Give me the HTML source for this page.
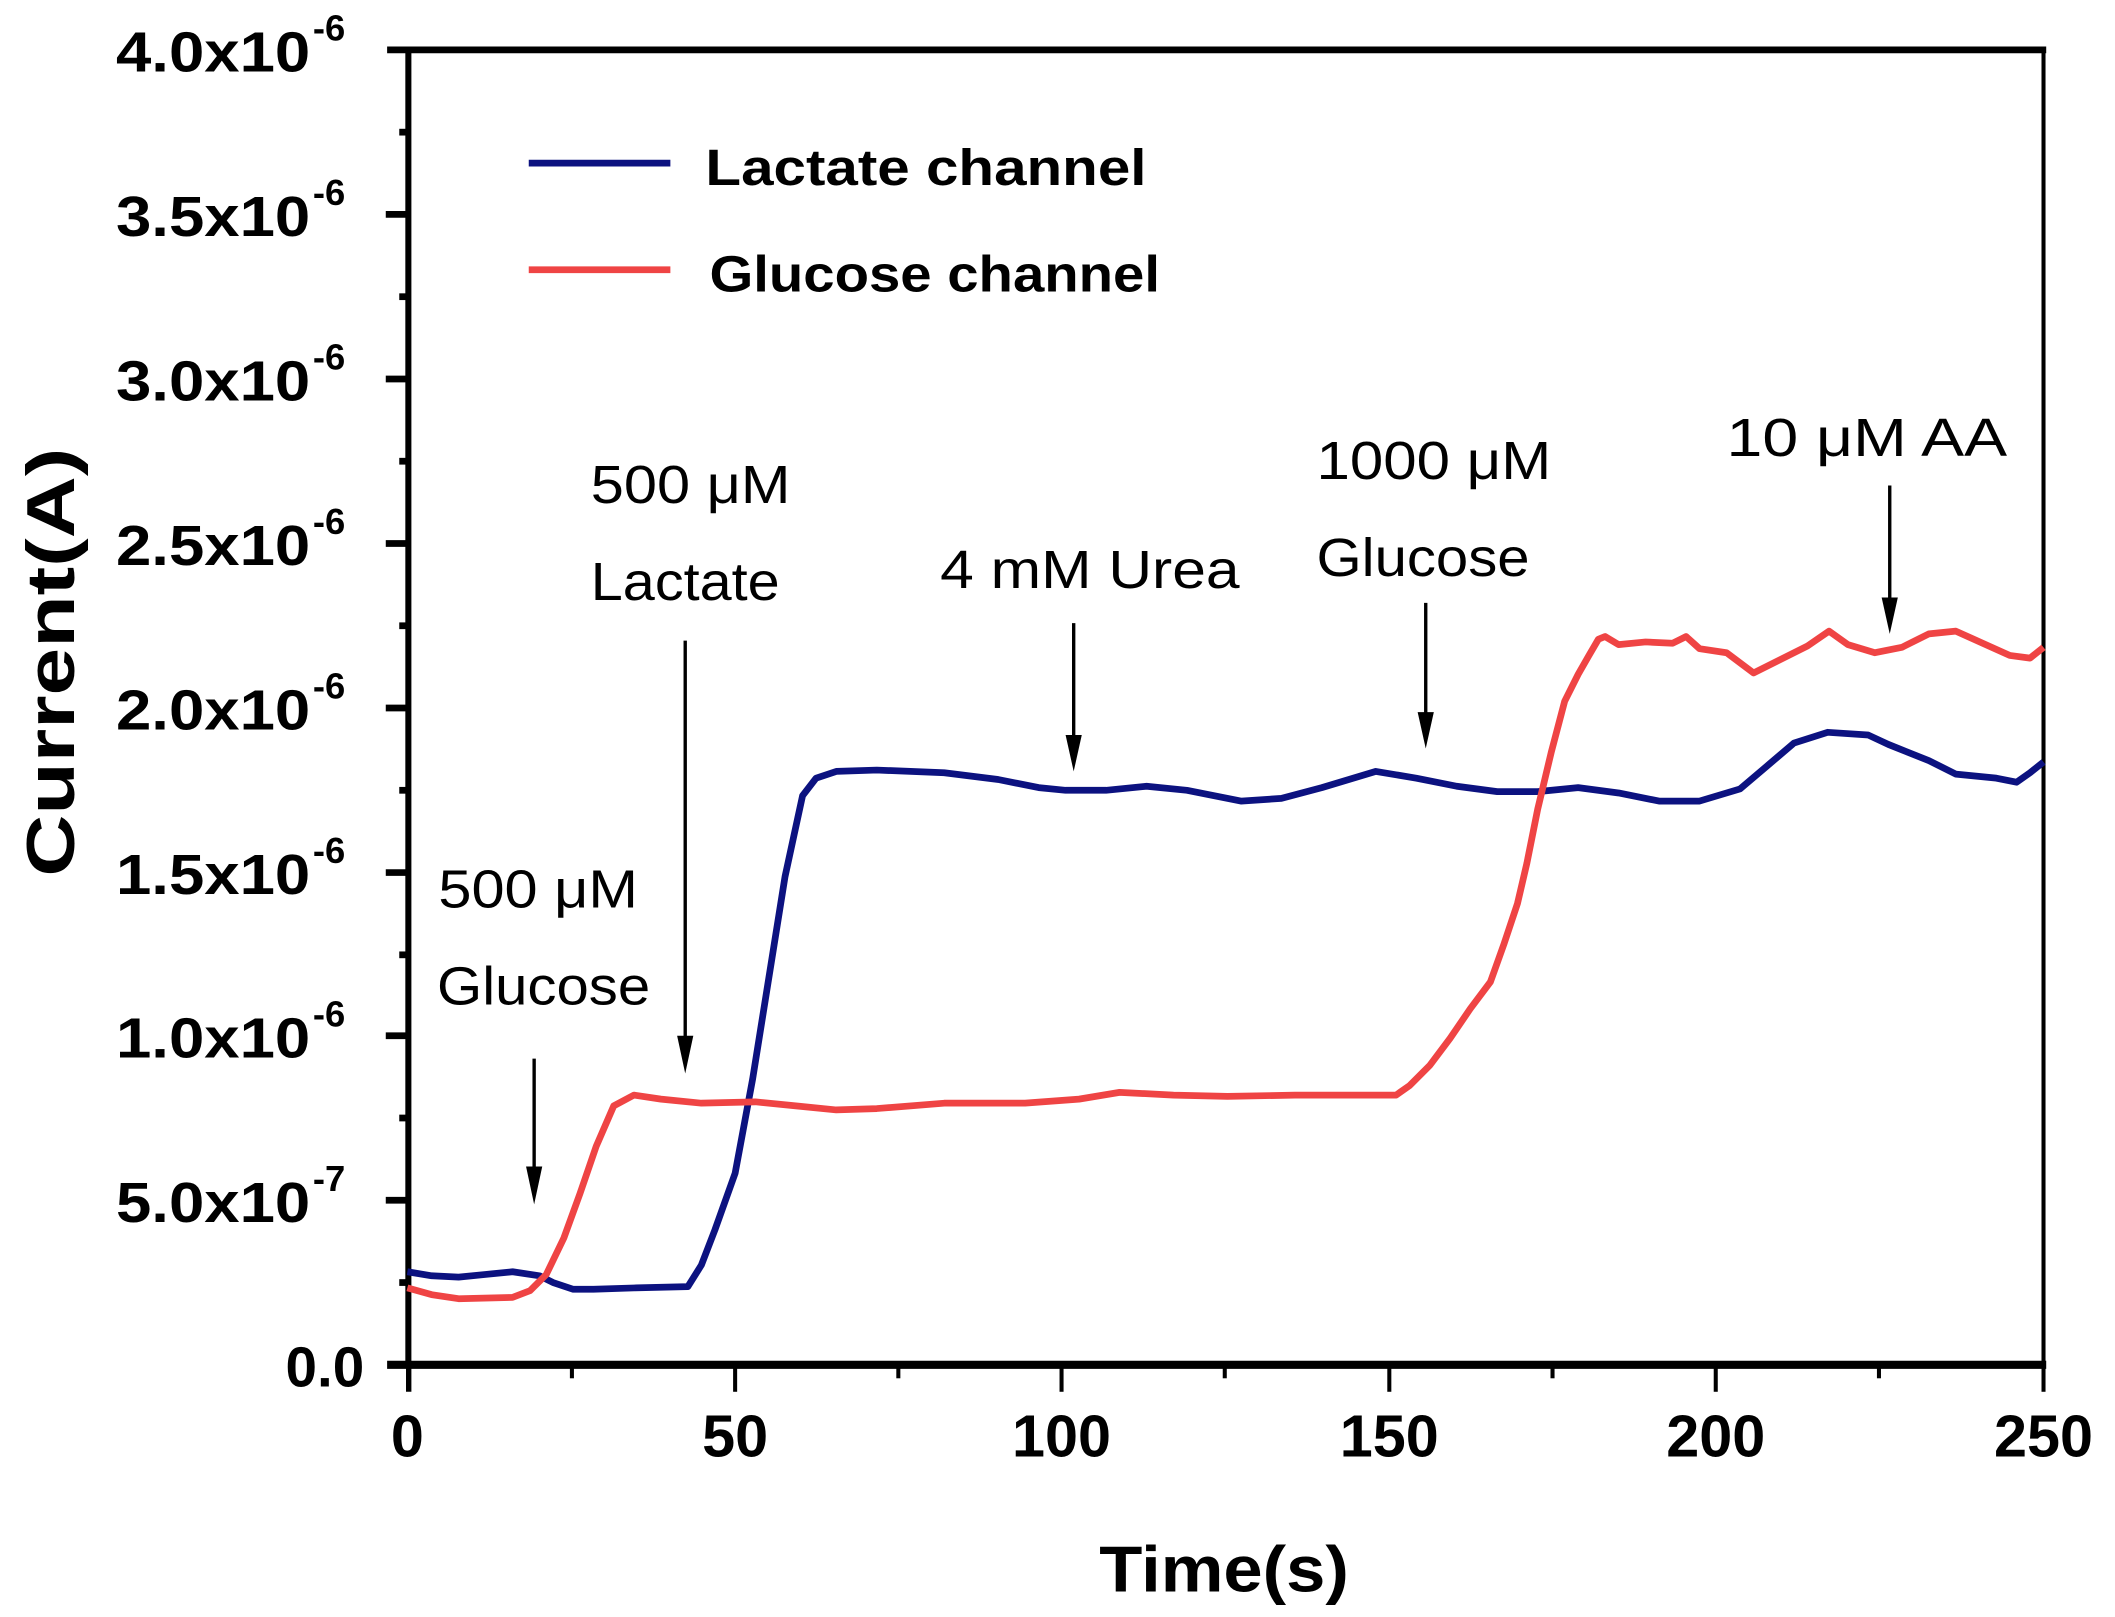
<!DOCTYPE html>
<html><head><meta charset="utf-8"><style>
html,body{margin:0;padding:0;background:#fff;}
svg{display:block;}
text{font-family:"Liberation Sans",sans-serif;fill:#000;}
.b{font-weight:bold;}
</style></head><body>
<svg width="2115" height="1617" viewBox="0 0 1568 1199" preserveAspectRatio="none" xmlns="http://www.w3.org/2000/svg">
<rect width="1568" height="1199" fill="#fff"/>
<rect x="302" y="37" width="1213" height="975" fill="none" stroke="#000" stroke-width="3"/>
<line x1="287" y1="37" x2="1517" y2="37" stroke="#000" stroke-width="5"/>
<line x1="287" y1="1012" x2="1517" y2="1012" stroke="#000" stroke-width="6"/>
<line x1="303" y1="37" x2="303" y2="1032" stroke="#000" stroke-width="4"/>
<g stroke="#000" stroke-width="5">
<line x1="286" y1="159" x2="302" y2="159"/><line x1="286" y1="281" x2="302" y2="281"/>
<line x1="286" y1="403" x2="302" y2="403"/><line x1="286" y1="525" x2="302" y2="525"/>
<line x1="286" y1="647" x2="302" y2="647"/><line x1="286" y1="768" x2="302" y2="768"/>
<line x1="286" y1="890" x2="302" y2="890"/>
<line x1="296" y1="98" x2="302" y2="98"/><line x1="296" y1="220" x2="302" y2="220"/>
<line x1="296" y1="342" x2="302" y2="342"/><line x1="296" y1="464" x2="302" y2="464"/>
<line x1="296" y1="586" x2="302" y2="586"/><line x1="296" y1="708" x2="302" y2="708"/>
<line x1="296" y1="829" x2="302" y2="829"/><line x1="296" y1="951" x2="302" y2="951"/>
</g>
<g stroke="#000" stroke-width="3">
<line x1="545" y1="1012" x2="545" y2="1032"/><line x1="787" y1="1012" x2="787" y2="1032"/>
<line x1="1030" y1="1012" x2="1030" y2="1032"/><line x1="1272" y1="1012" x2="1272" y2="1032"/>
<line x1="1515" y1="1012" x2="1515" y2="1032"/>
<line x1="424" y1="1012" x2="424" y2="1022"/><line x1="666" y1="1012" x2="666" y2="1022"/>
<line x1="908" y1="1012" x2="908" y2="1022"/><line x1="1151" y1="1012" x2="1151" y2="1022"/>
<line x1="1393" y1="1012" x2="1393" y2="1022"/>
</g>
<g class="b" font-size="42">
<text x="86" y="53" textLength="144" lengthAdjust="spacingAndGlyphs">4.0x10</text><text x="232" y="30" font-size="27">-6</text>
<text x="86" y="175" textLength="144" lengthAdjust="spacingAndGlyphs">3.5x10</text><text x="232" y="152" font-size="27">-6</text>
<text x="86" y="297" textLength="144" lengthAdjust="spacingAndGlyphs">3.0x10</text><text x="232" y="274" font-size="27">-6</text>
<text x="86" y="419" textLength="144" lengthAdjust="spacingAndGlyphs">2.5x10</text><text x="232" y="396" font-size="27">-6</text>
<text x="86" y="541" textLength="144" lengthAdjust="spacingAndGlyphs">2.0x10</text><text x="232" y="518" font-size="27">-6</text>
<text x="86" y="663" textLength="144" lengthAdjust="spacingAndGlyphs">1.5x10</text><text x="232" y="640" font-size="27">-6</text>
<text x="86" y="784" textLength="144" lengthAdjust="spacingAndGlyphs">1.0x10</text><text x="232" y="761" font-size="27">-6</text>
<text x="86" y="906" textLength="144" lengthAdjust="spacingAndGlyphs">5.0x10</text><text x="232" y="883" font-size="27">-7</text>
<text x="270" y="1028" text-anchor="end">0.0</text>
</g>
<g class="b" font-size="44" text-anchor="middle">
<text x="302" y="1080">0</text><text x="545" y="1080">50</text><text x="787" y="1080">100</text>
<text x="1030" y="1080">150</text><text x="1272" y="1080">200</text><text x="1515" y="1080">250</text>
</g>
<text class="b" x="815" y="1180" font-size="48" textLength="185" lengthAdjust="spacingAndGlyphs">Time(s)</text>
<text class="b" x="0" y="0" font-size="50" transform="translate(55,650) rotate(-90)" textLength="318" lengthAdjust="spacingAndGlyphs">Current(A)</text>
<line x1="392" y1="121" x2="497" y2="121" stroke="#0c1280" stroke-width="5"/>
<text class="b" x="523" y="137" font-size="38" textLength="327" lengthAdjust="spacingAndGlyphs">Lactate channel</text>
<line x1="392" y1="200" x2="497" y2="200" stroke="#ef4444" stroke-width="5"/>
<text class="b" x="526" y="216" font-size="38" textLength="334" lengthAdjust="spacingAndGlyphs">Glucose channel</text>
<polyline fill="none" stroke="#0c1280" stroke-width="5" stroke-linejoin="round" points="302,943 320,946 340,947 360,945 380,943 400,946 410,951 425,956 440,956 470,955 510,954 520,938 530,912 545,870 558,800 570,725 582,650 595,590 605,577 620,572 650,571 700,573 740,578 770,584 790,586 820,586 850,583 880,586 920,594 950,592 980,584 1020,572 1050,577 1080,583 1110,587 1140,587 1170,584 1200,588 1230,594 1260,594 1290,585 1310,568 1330,551 1355,543 1385,545 1400,552 1430,564 1450,574 1480,577 1495,580 1505,573 1515,565"/>
<polyline fill="none" stroke="#ef4444" stroke-width="5" stroke-linejoin="round" points="302,955 320,960 340,963 380,962 393,957 405,945 418,918 430,885 442,850 455,820 470,812 490,815 520,818 560,817 590,820 620,823 650,822 700,818 760,818 800,815 830,810 870,812 910,813 960,812 1035,812 1045,805 1060,790 1075,770 1090,748 1105,728 1115,700 1125,670 1132,640 1140,600 1150,558 1160,520 1170,500 1178,486 1185,474 1190,472 1200,478 1220,476 1240,477 1250,472 1260,481 1280,484 1300,499 1320,489 1340,479 1356,468 1370,478 1390,484 1410,480 1430,470 1450,468 1470,477 1490,486 1505,488 1515,480"/>
<g stroke="#000" stroke-width="2.5">
<line x1="396" y1="785" x2="396" y2="875"/><line x1="508" y1="475" x2="508" y2="780"/>
<line x1="796" y1="462" x2="796" y2="555"/><line x1="1057" y1="447" x2="1057" y2="538"/>
<line x1="1401" y1="360" x2="1401" y2="453"/>
</g>
<g fill="#000">
<polygon points="390,865 402,865 396,893"/><polygon points="502,768 514,768 508,796"/>
<polygon points="790,545 802,545 796,572"/><polygon points="1051,528 1063,528 1057,555"/>
<polygon points="1395,443 1407,443 1401,470"/>
</g>
<g font-size="40">
<text x="325" y="673" textLength="148" lengthAdjust="spacingAndGlyphs">500 μM</text>
<text x="324" y="745" textLength="158" lengthAdjust="spacingAndGlyphs">Glucose</text>
<text x="438" y="373" textLength="148" lengthAdjust="spacingAndGlyphs">500 μM</text>
<text x="438" y="445" textLength="140" lengthAdjust="spacingAndGlyphs">Lactate</text>
<text x="697" y="436" textLength="222" lengthAdjust="spacingAndGlyphs">4 mM Urea</text>
<text x="976" y="355" textLength="174" lengthAdjust="spacingAndGlyphs">1000 μM</text>
<text x="976" y="427" textLength="158" lengthAdjust="spacingAndGlyphs">Glucose</text>
<text x="1280" y="338" textLength="208" lengthAdjust="spacingAndGlyphs">10 μM  AA</text>
</g>
</svg>
</body></html>
